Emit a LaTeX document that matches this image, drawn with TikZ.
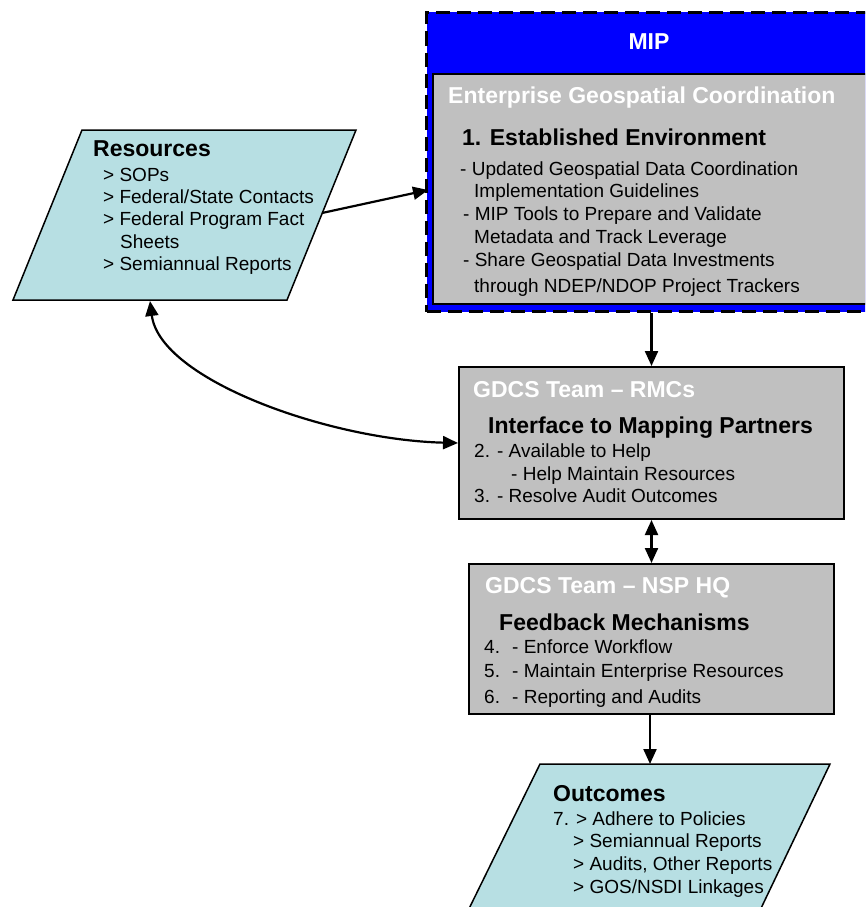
\documentclass[tikz,border=0pt]{standalone}
\usepackage{fontspec}
\setmainfont{Liberation Sans}
\usetikzlibrary{arrows.meta}
\definecolor{mipblue}{RGB}{0,0,255}
\definecolor{boxgray}{RGB}{192,192,192}
\definecolor{paracyan}{RGB}{183,223,227}
\begin{document}
\begin{tikzpicture}[x=1pt,y=-1pt,
  bodytxt/.style={anchor=base west,inner sep=0pt,font=\fontsize{19}{22}\selectfont},
  headtxt/.style={anchor=base west,inner sep=0pt,font=\fontsize{23}{27}\selectfont\bfseries},
  whitetxt/.style={headtxt,text=white},
  graybox/.style={draw=black,line width=2pt,fill=boxgray,anchor=north west,inner sep=0pt},
  para/.style={draw=black,line width=1.5pt,fill=paracyan},
  conn/.style={line width=2.2pt,-{Triangle[length=15pt,width=13pt]}},
  conn2/.style={line width=2.2pt,{Triangle[length=15pt,width=13pt]}-{Triangle[length=15pt,width=13pt]}}]
\clip (0,0) rectangle (865,907);
\fill[white] (0,0) rectangle (865,907);

% MIP outer box
\node[anchor=north west,inner sep=0pt,fill=mipblue,draw=black,line width=3pt,
  dash pattern=on 14pt off 7pt,minimum width=450pt,minimum height=299pt] (mip) at (425,11) {};
\node[graybox,minimum width=440pt,minimum height=230pt] (egc) at (432,73) {};
\node[headtxt,anchor=base,text=white] (miptitle) at (649,49) {MIP};
\node[whitetxt] (egctitle) at (448,103) {Enterprise Geospatial Coordination};
\node[headtxt] (envtitle) at (462,145) {1. Established Environment};
\node[bodytxt] (e1) at (460,175) {- Updated Geospatial Data Coordination};
\node[bodytxt] (e2) at (474,197) {Implementation Guidelines};
\node[bodytxt] (e3) at (463,220) {- MIP Tools to Prepare and Validate};
\node[bodytxt] (e4) at (474,243) {Metadata and Track Leverage};
\node[bodytxt] (e5) at (463,266) {- Share Geospatial Data Investments};
\node[bodytxt] (e6) at (474,292) {through NDEP/NDOP Project Trackers};

% Resources
\draw[para] (82,130) -- (356,130) -- (287,300) -- (13,300) -- cycle;
\coordinate (resR) at (322,213);
\coordinate (resB) at (150,301);
\node[headtxt] (restitle) at (93,156) {Resources};
\node[bodytxt] (r1) at (103,181) {> SOPs};
\node[bodytxt] (r2) at (103,203) {> Federal/State Contacts};
\node[bodytxt] (r3) at (103,225) {> Federal Program Fact};
\node[bodytxt] (r4) at (120,248) {Sheets};
\node[bodytxt] (r5) at (103,270) {> Semiannual Reports};

% RMCs
\node[graybox,minimum width=385pt,minimum height=152pt] (rmc) at (458,366) {};
\node[whitetxt] (rmctitle) at (473,397) {GDCS Team – RMCs};
\node[headtxt] (rmchead) at (488,433) {Interface to Mapping Partners};
\node[bodytxt] (m1) at (474,457) {2. - Available to Help};
\node[bodytxt] (m2) at (511,480) {- Help Maintain Resources};
\node[bodytxt] (m3) at (474,502) {3. - Resolve Audit Outcomes};

% NSP HQ
\node[graybox,minimum width=365pt,minimum height=150pt] (nsp) at (468,563) {};
\node[whitetxt] (nsptitle) at (485,593) {GDCS Team – NSP HQ};
\node[headtxt] (nsphead) at (499,630) {Feedback Mechanisms};
\node[bodytxt] (n4) at (484,653) {4.};
\node[bodytxt] (n4t) at (512,653) {- Enforce Workflow};
\node[bodytxt] (n5) at (484,677) {5.};
\node[bodytxt] (n5t) at (512,677) {- Maintain Enterprise Resources};
\node[bodytxt] (n6) at (484,703) {6.};
\node[bodytxt] (n6t) at (512,703) {- Reporting and Audits};

% Outcomes
\draw[para] (540,764) -- (830,764) -- (753,925) -- (461,925) -- cycle;
\coordinate (outT) at (650,764);
\node[headtxt] (outtitle) at (553,801) {Outcomes};
\node[bodytxt] (o1) at (553,825) {7. > Adhere to Policies};
\node[bodytxt] (o2) at (573,847) {> Semiannual Reports};
\node[bodytxt] (o3) at (573,870) {> Audits, Other Reports};
\node[bodytxt] (o4) at (573,893) {> GOS/NSDI Linkages};

% connectors
\coordinate (mipIn) at (428,190);
\draw[conn] (resR) -- (mipIn);
\draw[conn] (mip.south -| rmc.north) -- (rmc.north);
\draw[conn2] (rmc.south) -- (rmc.south |- nsp.north);
\draw[conn] (nsp.south -| outT) -- (outT);
\draw[conn2] (resB) .. controls (160,380) and (330,440) .. (rmc.west);
\end{tikzpicture}
\end{document}
